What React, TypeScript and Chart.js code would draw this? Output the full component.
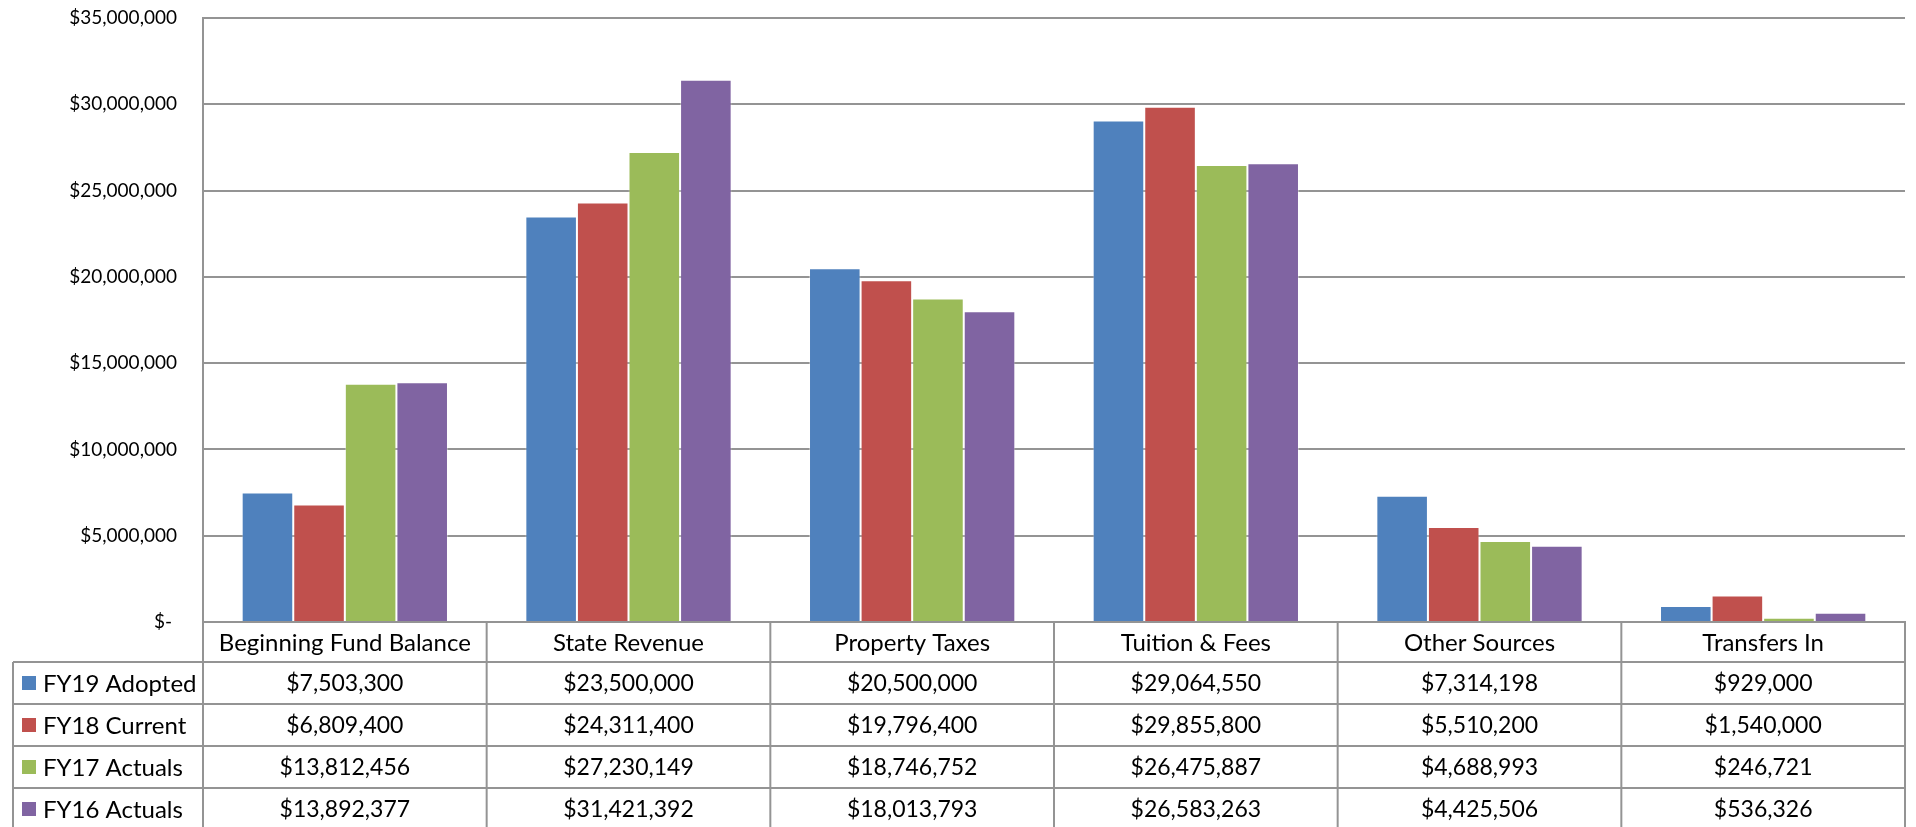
import React, { useEffect, useRef } from "react";
import { Chart, registerables } from "chart.js";

Chart.register(...registerables);

const categories = [
  "Beginning Fund Balance",
  "State Revenue",
  "Property Taxes",
  "Tuition & Fees",
  "Other Sources",
  "Transfers In",
];
const seriesNames = ["FY19 Adopted", "FY18 Current", "FY17 Actuals", "FY16 Actuals"];
const fy19Adopted = [7503300, 23500000, 20500000, 29064550, 7314198, 929000];
const fy18Current = [6809400, 24311400, 19796400, 29855800, 5510200, 1540000];
const fy17Actuals = [13812456, 27230149, 18746752, 26475887, 4688993, 246721];
const fy16Actuals = [13892377, 31421392, 18013793, 26583263, 4425506, 536326];
const seriesColors = ["#4F81BD", "#C0504D", "#9BBB59", "#8064A2"];
const yTickValues = [0, 5000000, 10000000, 15000000, 20000000, 25000000, 30000000, 35000000];
const yTickLabels = [
  "$- ",
  "$5,000,000",
  "$10,000,000",
  "$15,000,000",
  "$20,000,000",
  "$25,000,000",
  "$30,000,000",
  "$35,000,000",
];

const W = 1916;
const H = 827;
const FONT = "Lato, 'Open Sans', sans-serif";
const LINE = "#949494";

const seriesValues = [fy19Adopted, fy18Current, fy17Actuals, fy16Actuals];
const fmt = (v: number) => "$" + v.toLocaleString("en-US");

const tablePlugin = {
  id: "dataTable",
  afterDraw(chart: any) {
    const { ctx, chartArea, scales } = chart;
    const xs = scales.x;
    const top = chartArea.bottom;
    const headerH = 40;
    const rowH = 42;
    const leftEdge = 13;
    const n = categories.length;
    const colW = (chartArea.right - chartArea.left) / n;
    ctx.save();
    ctx.strokeStyle = LINE;
    ctx.lineWidth = 2;
    const line = (x1: number, y1: number, x2: number, y2: number) => {
      ctx.beginPath();
      ctx.moveTo(x1, y1);
      ctx.lineTo(x2, y2);
      ctx.stroke();
    };
    for (let i = 0; i <= n; i++) {
      const xx = i < n ? xs.getPixelForValue(i) - colW / 2 : xs.getPixelForValue(n - 1) + colW / 2;
      line(xx, top, xx, H);
    }
    for (let r = 0; r < seriesNames.length; r++) {
      const y = top + headerH + r * rowH;
      line(leftEdge, y, chartArea.right, y);
    }
    line(leftEdge, top + headerH, leftEdge, H);

    ctx.fillStyle = "#000";
    ctx.textBaseline = "middle";
    for (let r = 0; r < seriesNames.length; r++) {
      const cy = top + headerH + r * rowH + rowH / 2;
      ctx.fillStyle = seriesColors[r];
      ctx.fillRect(22, cy - 7, 14, 14);
      ctx.fillStyle = "#000";
      ctx.textAlign = "left";
      ctx.font = `24px ${FONT}`;
      ctx.fillText(seriesNames[r], 43, cy + 1);
      ctx.font = `23px ${FONT}`;
      ctx.textAlign = "center";
      for (let i = 0; i < n; i++) {
        ctx.fillText(fmt(seriesValues[r][i]), xs.getPixelForValue(i), cy + 1);
      }
    }
    ctx.restore();
  },
};

export default function App() {
  const ref = useRef<HTMLCanvasElement | null>(null);
  useEffect(() => {
    if (!ref.current) return;
    const chart = new Chart(ref.current, {
      type: "bar",
      data: {
        labels: categories,
        datasets: seriesNames.map((name, i) => ({
          label: name,
          data: seriesValues[i],
          backgroundColor: seriesColors[i],
          borderColor: "rgba(255,255,255,0.35)",
          borderWidth: 1,
          barPercentage: 1,
          categoryPercentage: 4 / 5.5,
        })),
      },
      options: {
        responsive: false,
        animation: false,
        devicePixelRatio: 1,
        layout: { padding: { top: 18, right: 11, left: 0, bottom: 0 } },
        plugins: { legend: { display: false }, tooltip: { enabled: false } },
        scales: {
          x: {
            grid: { display: false, drawTicks: false },
            border: { display: true, color: LINE, width: 2 },
            ticks: {
              autoSkip: false,
              maxRotation: 0,
              minRotation: 0,
              padding: 7,
              color: "#000",
              font: { family: FONT, size: 24 },
            },
            afterFit: (s: any) => {
              s.height = 205;
              s.paddingLeft = 0;
              s.paddingRight = 0;
            },
          },
          y: {
            min: 0,
            max: 35000000,
            grid: { color: LINE, lineWidth: 2, drawTicks: false },
            border: { display: true, color: LINE, width: 2 },
            afterBuildTicks: (s: any) => {
              s.ticks = yTickValues.map((v) => ({ value: v }));
            },
            ticks: {
              padding: 26,
              color: "#000",
              font: { family: FONT, size: 19 },
              callback: (v: any) => {
                const idx = yTickValues.indexOf(Number(v));
                return idx >= 0 ? yTickLabels[idx] : "";
              },
            },
            afterFit: (s: any) => {
              s.width = 203;
              s.paddingTop = 0;
              s.paddingBottom = 0;
            },
          },
        },
      },
      plugins: [tablePlugin],
    });
    return () => chart.destroy();
  }, []);
  return (
    <div style={{ position: "fixed", left: 0, top: 0, width: W, height: H, overflow: "hidden", background: "#fff" }}>
      <canvas ref={ref} width={W} height={H} style={{ display: "block", width: W, height: H }} />
    </div>
  );
}
